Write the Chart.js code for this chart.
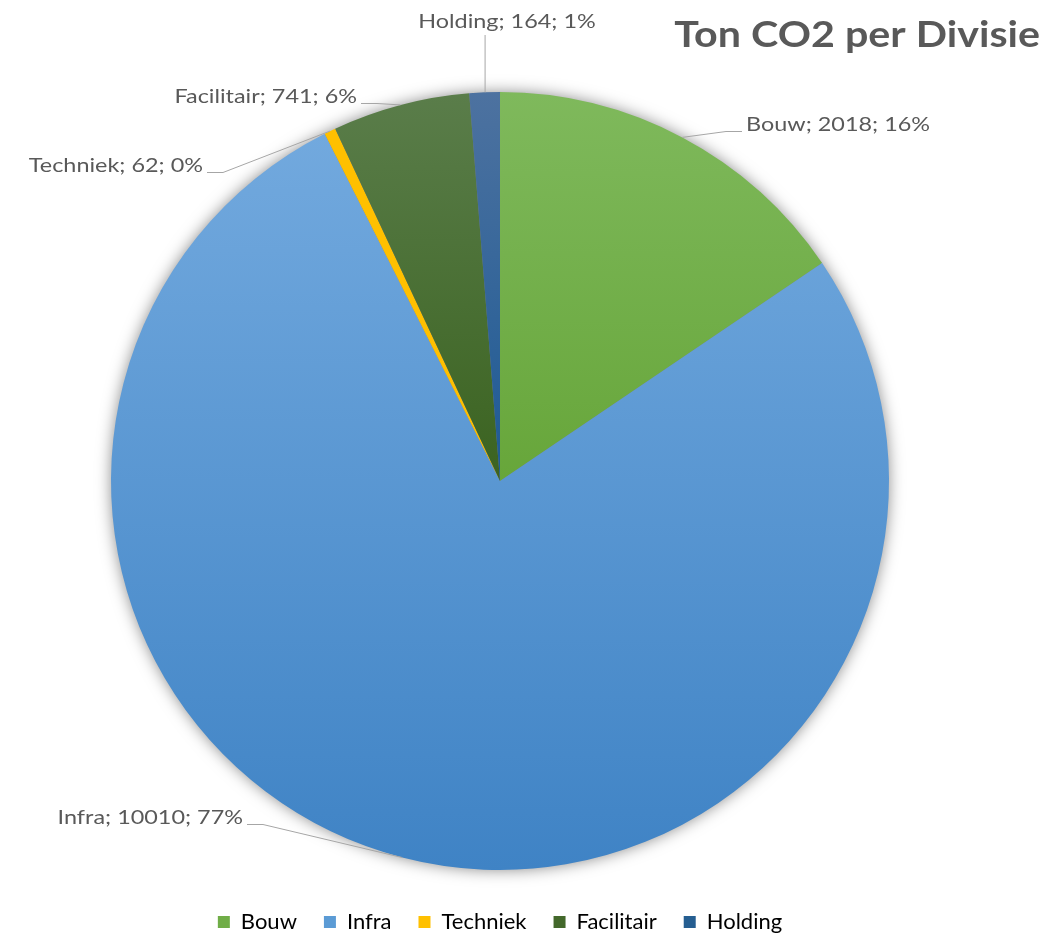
<!DOCTYPE html>
<html>
<head>
<meta charset="utf-8">
<title>Ton CO2 per Divisie</title>
<script src="https://cdn.jsdelivr.net/npm/chart.js@4.4.1/dist/chart.umd.min.js"></script>
<style>
  html, body { margin: 0; padding: 0; background: #ffffff; }
  #wrap { position: relative; width: 1049px; height: 936px; }
</style>
</head>
<body>
<div id="wrap"><canvas id="co2Chart"></canvas></div>
<script>
// data
const categories = ["Bouw", "Infra", "Techniek", "Facilitair", "Holding"];
const tonCO2 = [2018, 10010, 62, 741, 164];

// styles
const topColors = ["#7fb95c", "#72a9de", "#ffc000", "#5a7d4a", "#4d72a0"];
const bottomColors = ["#67a63a", "#3f83c5", "#ffc000", "#3b6320", "#1d5a94"];
const flatColors = ["#70ad47", "#5b9bd5", "#ffc000", "#43682b", "#255e91"];
// label anchor relative to pie centre (px), and alignment
const labelOffsets = [[246, -356], [-257, 337], [-297, -315], [-143, -384], [7, -459]];
const labelAlign = ["left", "right", "right", "right", "center"];

const TEXT_COLOR = "#595959";
const LINE_COLOR = "#a6a6a6";
const FONT = "Lato, 'Open Sans', sans-serif";
const STRETCH = 1.17;      // labels are a bit wider than Lato

const total = tonCO2.reduce((a, b) => a + b, 0);

function sliceGradient(context) {
    const chart = context.chart;
    const area = chart.chartArea;
    const i = context.dataIndex;
    if (!area || i === undefined) return flatColors[i] || "#999";
    const cx = (area.left + area.right) / 2;
    const cy = (area.top + area.bottom) / 2;
    const r = Math.min(area.right - area.left, area.bottom - area.top) / 2;
    let before = 0;
    for (let k = 0; k < i; k++) before += tonCO2[k];
    const a0 = -Math.PI / 2 + before / total * Math.PI * 2;
    const a1 = a0 + tonCO2[i] / total * Math.PI * 2;
    // vertical extent of the sector
    let ys = [cy, cy + Math.sin(a0) * r, cy + Math.sin(a1) * r];
    for (let k = -1; k <= 3; k++) {
        const ang = -Math.PI / 2 + k * Math.PI;
        if (ang > a0 && ang < a1) ys.push(cy + Math.sin(ang) * r);
    }
    const y0 = Math.min(...ys), y1 = Math.max(...ys);
    const g = chart.ctx.createLinearGradient(0, y0, 0, y1);
    g.addColorStop(0, topColors[i]);
    g.addColorStop(1, bottomColors[i]);
    return g;
}

const shadowPlugin = {
    id: "pieShadow",
    beforeDatasetsDraw(chart) {
        const arc = chart.getDatasetMeta(0).data[0];
        if (!arc) return;
        const ctx = chart.ctx;
        ctx.save();
        ctx.beginPath();
        ctx.arc(arc.x, arc.y, arc.outerRadius - 1, 0, Math.PI * 2);
        ctx.shadowColor = "rgba(0,0,0,0.5)";
        ctx.shadowBlur = 16;
        ctx.fillStyle = "#7f7f7f";
        ctx.fill();
        ctx.restore();
    }
};

function stretchedText(ctx, text, x, y, sx) {
    ctx.save();
    ctx.translate(x, y);
    ctx.scale(sx, 1);
    ctx.fillText(text, 0, 0);
    ctx.restore();
}

const labelPlugin = {
    id: "sliceLabels",
    afterDraw(chart) {
        const ctx = chart.ctx;
        const meta = chart.getDatasetMeta(0);
        ctx.save();
        ctx.font = "20px " + FONT;
        ctx.fillStyle = TEXT_COLOR;
        ctx.strokeStyle = LINE_COLOR;
        ctx.lineWidth = 1;
        ctx.textBaseline = "middle";
        meta.data.forEach((arc, i) => {
            const pct = Math.round(tonCO2[i] / total * 100);
            const text = categories[i] + "; " + tonCO2[i] + "; " + pct + "%";
            const mid = (arc.startAngle + arc.endAngle) / 2;
            const px = arc.x + Math.cos(mid) * arc.outerRadius;
            const py = arc.y + Math.sin(mid) * arc.outerRadius;
            const tx = arc.x + labelOffsets[i][0];
            const ty = arc.y + labelOffsets[i][1];
            ctx.textAlign = labelAlign[i];
            stretchedText(ctx, text, tx, ty, STRETCH);
            ctx.beginPath();
            if (labelAlign[i] === "center") {
                ctx.moveTo(px + 0.5, ty + 13);
                ctx.lineTo(px + 0.5, py);
            } else {
                const dir = labelAlign[i] === "left" ? -1 : 1;
                const sx = tx + dir * 4;
                const ly = ty + 6.5;
                ctx.moveTo(sx, ly);
                ctx.lineTo(sx + dir * 16, ly);
                ctx.lineTo(px, py);
            }
            ctx.stroke();
        });
        // title
        ctx.font = "bold 36px " + FONT;
        ctx.textAlign = "right";
        stretchedText(ctx, "Ton CO2 per Divisie", 1040, 35, 1.145);
        ctx.restore();
    }
};

new Chart(document.getElementById("co2Chart"), {
    type: "pie",
    data: {
        labels: categories,
        datasets: [{
            data: tonCO2,
            backgroundColor: sliceGradient,
            borderWidth: 0,
            hoverOffset: 0
        }]
    },
    options: {
        responsive: true,
        maintainAspectRatio: false,
        animation: false,
        layout: { padding: { top: 78, left: 111, right: 160, bottom: -7 } },
        plugins: {
            legend: {
                position: "bottom",
                labels: {
                    color: TEXT_COLOR,
                    font: { family: FONT, size: 22 },
                    boxWidth: 12,
                    boxHeight: 12,
                    padding: 27,
                    generateLabels(chart) {
                        return categories.map((c, i) => ({
                            text: c,
                            fillStyle: flatColors[i],
                            strokeStyle: flatColors[i],
                            lineWidth: 0,
                            index: i
                        }));
                    }
                }
            },
            tooltip: { enabled: false }
        }
    },
    plugins: [shadowPlugin, labelPlugin]
});
</script>
</body>
</html>
